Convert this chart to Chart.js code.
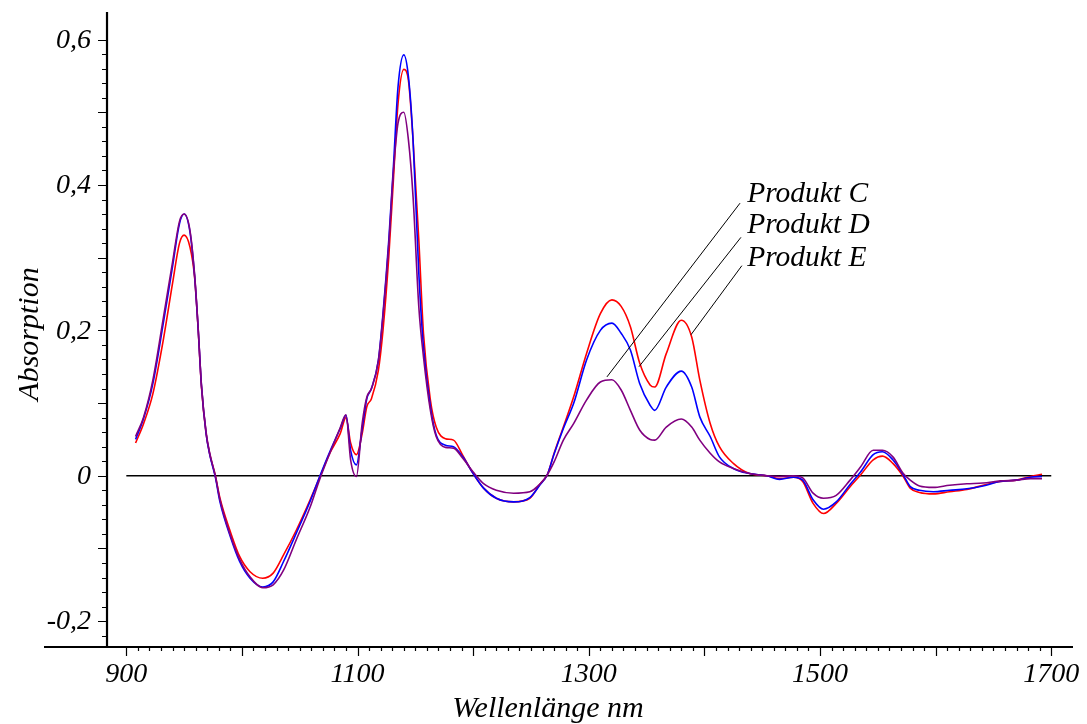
<!DOCTYPE html>
<html lang="de">
<head>
<meta charset="utf-8">
<title>Absorptionsspektren Produkt C, D, E</title>
<script src="https://cdn.jsdelivr.net/npm/chart.js@4.4.1/dist/chart.umd.min.js"></script>
<style>
  html, body { margin: 0; padding: 0; background: #ffffff; }
  #wrap { width: 1087px; height: 724px; }
</style>
</head>
<body>
<div id="wrap"><canvas id="spektrum" width="1087" height="724"></canvas></div>
<script>
const wellenlaenge = [
  908, 915, 923, 932, 940, 946, 950, 955, 959, 962, 965, 969, 972, 977, 981, 990, 998,
  1007, 1018, 1027, 1036, 1047, 1059, 1067, 1076, 1085, 1090, 1094, 1099, 1104, 1108,
  1112, 1118, 1122, 1127, 1131, 1135, 1140, 1144, 1148, 1153, 1157, 1163, 1168, 1176,
  1183, 1191, 1200, 1209, 1220, 1235, 1249, 1258, 1264, 1270, 1278, 1287, 1298, 1310,
  1320, 1328, 1336, 1344, 1353, 1357, 1367, 1380, 1389, 1396, 1405, 1413, 1425, 1439,
  1454, 1465, 1477, 1485, 1494, 1503, 1514, 1526, 1535, 1546, 1554, 1563, 1572, 1578,
  1586, 1598, 1612, 1627, 1641, 1656, 1670, 1682, 1692
];

// Produkt E (rot)
const produktE = [
  0.045, 0.072, 0.113, 0.187, 0.265, 0.320, 0.331, 0.315, 0.274, 0.205, 0.122, 0.058, 0.031, 0.000, -0.031, -0.077, -0.111,
  -0.132, -0.141, -0.134, -0.109, -0.075, -0.033, -0.003, 0.031, 0.058, 0.080, 0.045, 0.029, 0.058, 0.095,
  0.106, 0.145, 0.200, 0.301, 0.407, 0.512, 0.559, 0.544, 0.462, 0.324, 0.196, 0.104, 0.067, 0.051,
  0.049, 0.028, 0.003, -0.017, -0.031, -0.036, -0.031, -0.011, 0.001, 0.031, 0.067, 0.109, 0.168, 0.223,
  0.242, 0.233, 0.205, 0.155, 0.125, 0.122, 0.168, 0.214, 0.191, 0.132, 0.072, 0.040, 0.017, 0.003,
  0.000, -0.004, -0.002, -0.008, -0.038, -0.052, -0.038, -0.015, 0.001, 0.022, 0.027, 0.017, -0.001, -0.017,
  -0.023, -0.025, -0.022, -0.019, -0.013, -0.008, -0.006, -0.001, 0.002
];

// Produkt D (blau)
const produktD = [
  0.050, 0.079, 0.127, 0.210, 0.288, 0.347, 0.360, 0.336, 0.276, 0.206, 0.124, 0.058, 0.030, -0.002, -0.036, -0.084, -0.118,
  -0.141, -0.153, -0.146, -0.118, -0.079, -0.035, -0.002, 0.033, 0.065, 0.083, 0.035, 0.015, 0.065, 0.106,
  0.120, 0.159, 0.223, 0.324, 0.425, 0.535, 0.579, 0.549, 0.462, 0.278, 0.177, 0.095, 0.056, 0.042,
  0.040, 0.026, 0.003, -0.017, -0.031, -0.036, -0.030, -0.012, 0.001, 0.030, 0.065, 0.100, 0.159, 0.200,
  0.210, 0.196, 0.173, 0.127, 0.097, 0.090, 0.122, 0.144, 0.122, 0.081, 0.054, 0.026, 0.010, 0.003,
  0.000, -0.005, -0.002, -0.006, -0.033, -0.046, -0.036, -0.012, 0.005, 0.029, 0.033, 0.022, 0.001, -0.015,
  -0.020, -0.022, -0.020, -0.018, -0.014, -0.008, -0.006, -0.002, -0.001
];

// Produkt C (violett)
const produktC = [
  0.054, 0.081, 0.132, 0.217, 0.294, 0.350, 0.360, 0.338, 0.278, 0.207, 0.124, 0.060, 0.032, 0.000, -0.033, -0.082, -0.115,
  -0.139, -0.154, -0.150, -0.130, -0.088, -0.043, -0.006, 0.031, 0.066, 0.084, 0.022, -0.001, 0.072, 0.108,
  0.120, 0.158, 0.220, 0.318, 0.418, 0.485, 0.500, 0.462, 0.384, 0.232, 0.164, 0.090, 0.054, 0.039,
  0.038, 0.024, 0.005, -0.011, -0.020, -0.024, -0.022, -0.011, 0.001, 0.019, 0.049, 0.072, 0.104, 0.129,
  0.132, 0.118, 0.090, 0.063, 0.050, 0.049, 0.067, 0.078, 0.067, 0.049, 0.031, 0.019, 0.010, 0.003,
  0.000, -0.001, 0.000, -0.003, -0.024, -0.031, -0.027, -0.006, 0.012, 0.035, 0.035, 0.026, 0.003, -0.006,
  -0.014, -0.016, -0.013, -0.011, -0.010, -0.007, -0.006, -0.004, -0.004
];

// Achsbeschriftungen
const xTickWerte = [900, 1100, 1300, 1500, 1700];
const xTickTexte = ['900', '1100', '1300', '1500', '1700'];
const yTickWerte = [0.6, 0.4, 0.2, 0, -0.2];
const yTickTexte = ['0,6', '0,4', '0,2', '0', '-0,2'];

// Beschriftungen der Kurven: Textanker [nm, Absorption] und Hinweislinie (Start, Ende)
const produktNamen = ['Produkt C', 'Produkt D', 'Produkt E'];
const namenAnker = [[1437, 0.3765], [1437, 0.3336], [1437, 0.2882]];
const hinweisStart = [[1430.8, 0.375], [1431.6, 0.328], [1432.4, 0.289]];
const hinweisEnde = [[1315.7, 0.136], [1343.4, 0.150], [1388.4, 0.194]];

const SCHRIFT = '"Liberation Serif", "Times New Roman", serif';

const punkte = (werte) => wellenlaenge.map((w, i) => ({ x: w, y: werte[i] }));

const datasets = [
  { label: 'Produkt E', data: punkte(produktE), borderColor: '#ff0000', order: 3 },
  { label: 'Produkt D', data: punkte(produktD), borderColor: '#0000ff', order: 2 },
  { label: 'Produkt C', data: punkte(produktC), borderColor: '#800080', order: 1 }
].map(d => Object.assign(d, {
  borderWidth: 1.6, pointRadius: 0, fill: false, cubicInterpolationMode: 'monotone'
}));

// Nulllinie
datasets.push({
  label: 'Nulllinie', data: [{ x: 900, y: 0 }, { x: 1700, y: 0 }],
  borderColor: '#000000', borderWidth: 1.5, pointRadius: 0, order: 5
});

// Hinweislinien zu den Kurven
hinweisStart.forEach((s, i) => {
  datasets.push({
    label: 'Hinweis ' + produktNamen[i],
    data: [{ x: s[0], y: s[1] }, { x: hinweisEnde[i][0], y: hinweisEnde[i][1] }],
    borderColor: '#000000', borderWidth: 1, pointRadius: 0, order: 0
  });
});

// Achsen, Teilstriche und Texte im Stil eines Spektrometer-Ausdrucks
const achsenPlugin = {
  id: 'achsen',
  afterDraw(chart) {
    const ctx = chart.ctx;
    const xs = chart.scales.x, ys = chart.scales.y;
    const area = chart.chartArea;
    const yAchseX = xs.getPixelForValue(883.3);
    const xAchseY = area.bottom;
    ctx.save();
    ctx.strokeStyle = '#000000';
    ctx.fillStyle = '#000000';

    // Achslinien
    ctx.lineWidth = 2.2;
    ctx.beginPath();
    ctx.moveTo(yAchseX, area.top);
    ctx.lineTo(yAchseX, xAchseY);
    ctx.moveTo(area.left, xAchseY);
    ctx.lineTo(area.right, xAchseY);
    ctx.stroke();

    // Y-Teilstriche alle 0,02, lange Striche alle 0,1
    ctx.lineWidth = 1.2;
    ctx.beginPath();
    for (let k = -11; k <= 30; k++) {
      const py = Math.round(ys.getPixelForValue(k * 0.02)) + 0.5;
      const len = (k % 5 === 0) ? 9 : 5;
      ctx.moveTo(yAchseX, py);
      ctx.lineTo(yAchseX - len, py);
    }
    // X-Teilstriche alle 10 nm, lange Striche alle 100 nm
    for (let w = 900; w <= 1700; w += 10) {
      const px = Math.round(xs.getPixelForValue(w)) + 0.5;
      const len = (w % 100 === 0) ? 9 : 4;
      ctx.moveTo(px, xAchseY);
      ctx.lineTo(px, xAchseY + len);
    }
    ctx.stroke();

    // Tick-Beschriftungen
    ctx.font = 'italic 28px ' + SCHRIFT;
    ctx.textAlign = 'right';
    ctx.textBaseline = 'middle';
    yTickWerte.forEach((v, i) => {
      ctx.fillText(yTickTexte[i], 91, ys.getPixelForValue(v) + 1);
    });
    ctx.textAlign = 'center';
    ctx.textBaseline = 'alphabetic';
    xTickWerte.forEach((v, i) => {
      ctx.fillText(xTickTexte[i], xs.getPixelForValue(v), 682);
    });

    // Achsentitel
    ctx.font = 'italic 30px ' + SCHRIFT;
    ctx.fillText('Wellenlänge nm', 548, 717);
    ctx.save();
    ctx.translate(38, 334);
    ctx.rotate(-Math.PI / 2);
    ctx.fillText('Absorption', 0, 0);
    ctx.restore();

    // Kurvennamen
    ctx.textAlign = 'left';
    ctx.font = 'italic 29.5px ' + SCHRIFT;
    produktNamen.forEach((n, i) => {
      ctx.fillText(n, xs.getPixelForValue(namenAnker[i][0]), ys.getPixelForValue(namenAnker[i][1]));
    });
    ctx.restore();
  }
};

new Chart(document.getElementById('spektrum'), {
  type: 'line',
  data: { datasets },
  options: {
    responsive: false,
    animation: false,
    devicePixelRatio: 1,
    layout: { padding: { left: 44, right: 14, top: 12, bottom: 77 } },
    plugins: { legend: { display: false }, tooltip: { enabled: false } },
    scales: {
      x: { type: 'linear', min: 828.8, max: 1718.8, display: false },
      y: { type: 'linear', min: -0.2356, max: 0.638, display: false }
    }
  },
  plugins: [achsenPlugin]
});
</script>
</body>
</html>
